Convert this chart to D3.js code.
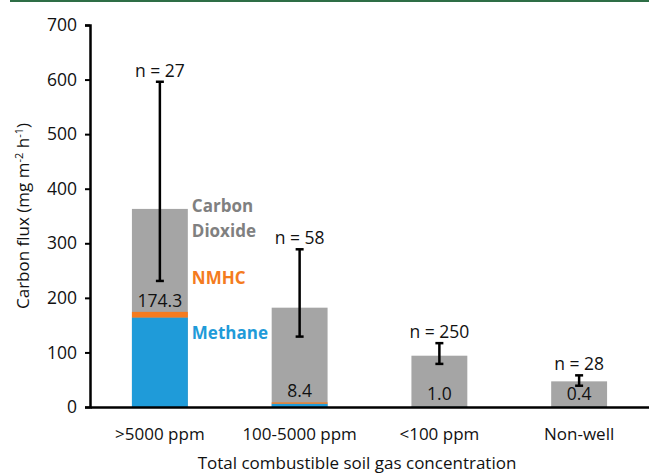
<!DOCTYPE html>
<html>
<head>
<meta charset="utf-8">
<script src="https://cdn.jsdelivr.net/npm/d3@7"></script>
<style>
  body { margin: 0; background: #fff; }
  svg text { font-family: "Open Sans", "Noto Sans", sans-serif; }
</style>
</head>
<body>
<div id="chart"></div>
<script>
// ── data ──
const categories = ['>5000 ppm', '100-5000 ppm', '<100 ppm', 'Non-well'];
const methane = [164.0, 6.0, 0.7, 0.3];
const nmhc = [10.3, 2.4, 0.3, 0.1];
const totalFlux = [363, 182, 94, 47];
const errHigh = [596, 289, 117, 58];
const errLow = [231, 129, 79, 39];
const sampleN = [27, 58, 250, 28];
const hcLabels = ['174.3', '8.4', '1.0', '0.4'];
const yTicks = [0, 100, 200, 300, 400, 500, 600, 700];

const W = 649, H = 473;
const margin = { top: 25, right: 0, bottom: 66, left: 90 };

const svg = d3.select('#chart').append('svg').attr('width', W).attr('height', H);

// thin green rule along the top
svg.append('rect').attr('x', 10).attr('y', 0).attr('width', W - 10).attr('height', 2).attr('fill', '#2e6e46');

const x = d3.scaleBand().domain(categories).range([margin.left, W - margin.right]).paddingInner(0.6).paddingOuter(0.3);
const y = d3.scaleLinear().domain([0, 700]).range([H - margin.bottom, margin.top]);

const g = svg.append('g');

// stacked bars: grey total, then methane, then NMHC on top of methane
g.selectAll('.bar-total').data(categories).join('rect')
    .attr('x', d => x(d)).attr('width', x.bandwidth())
    .attr('y', (d, i) => y(totalFlux[i])).attr('height', (d, i) => y(0) - y(totalFlux[i]))
    .attr('fill', '#a5a5a5');

g.selectAll('.bar-ch4').data(categories).join('rect')
    .attr('x', d => x(d)).attr('width', x.bandwidth())
    .attr('y', (d, i) => y(methane[i])).attr('height', (d, i) => y(0) - y(methane[i]))
    .attr('fill', '#1f9bd9');

g.selectAll('.bar-nmhc').data(categories).join('rect')
    .attr('x', d => x(d)).attr('width', x.bandwidth())
    .attr('y', (d, i) => y(methane[i] + nmhc[i])).attr('height', (d, i) => y(methane[i]) - y(methane[i] + nmhc[i]))
    .attr('fill', '#f47b20');

// error bars
const eb = g.selectAll('.err').data(categories).join('g')
    .attr('transform', d => `translate(${x(d) + x.bandwidth() / 2},0)`);
eb.append('line').attr('y1', (d, i) => y(errLow[i])).attr('y2', (d, i) => y(errHigh[i]))
    .attr('stroke', '#000').attr('stroke-width', 2.5);
eb.append('line').attr('x1', -4).attr('x2', 4).attr('y1', (d, i) => y(errHigh[i])).attr('y2', (d, i) => y(errHigh[i]))
    .attr('stroke', '#000').attr('stroke-width', 2.5);
eb.append('line').attr('x1', -4).attr('x2', 4).attr('y1', (d, i) => y(errLow[i])).attr('y2', (d, i) => y(errLow[i]))
    .attr('stroke', '#000').attr('stroke-width', 2.5);
eb.append('text').attr('text-anchor', 'middle').attr('font-size', 17.5).attr('fill', '#111')
    .attr('y', (d, i) => y(errHigh[i]) - 5)
    .text((d, i) => `n = ${sampleN[i]}`);

// hydrocarbon flux values
g.selectAll('.hc').data(categories).join('text')
    .attr('x', d => x(d) + x.bandwidth() / 2)
    .attr('y', (d, i) => Math.min(y(methane[i] + nmhc[i]) - 5, y(0) - 7))
    .attr('text-anchor', 'middle').attr('font-size', 17.5).attr('fill', '#111')
    .text((d, i) => hcLabels[i]);

// in-plot legend next to first bar (pixel positions)
const lx = x(categories[0]) + x.bandwidth() + 4;
const legend = [
    { t: 'Carbon', py: 212, c: '#808080' },
    { t: 'Dioxide', py: 237, c: '#808080' },
    { t: 'NMHC', py: 284, c: '#f47b20' },
    { t: 'Methane', py: 339, c: '#1f9bd9' }
];
g.selectAll('.leg').data(legend).join('text')
    .attr('x', lx).attr('y', d => d.py)
    .attr('font-size', 17).attr('font-weight', 'bold').attr('fill', d => d.c)
    .text(d => d.t);

// axes
const yAxis = svg.append('g').attr('transform', `translate(${margin.left},0)`)
    .call(d3.axisLeft(y).tickValues(yTicks).tickSize(5).tickPadding(8));
yAxis.select('.domain').attr('stroke', '#000').attr('stroke-width', 2.5);
yAxis.selectAll('.tick line').attr('stroke', '#000').attr('stroke-width', 2);
yAxis.selectAll('.tick text').attr('font-size', 17.5).attr('fill', '#111');

const xAxis = svg.append('g').attr('transform', `translate(0,${y(0)})`)
    .call(d3.axisBottom(x).tickSize(0).tickPadding(21));
xAxis.select('.domain').attr('stroke', '#000').attr('stroke-width', 2.5);
xAxis.selectAll('.tick text').attr('font-size', 17).attr('fill', '#111');

svg.append('text').attr('x', 357).attr('y', 469).attr('text-anchor', 'middle')
    .attr('font-size', 17).attr('fill', '#111')
    .text('Total combustible soil gas concentration');

const yt = svg.append('text').attr('transform', `translate(29,${(y(0) + y(700)) / 2}) rotate(-90)`)
    .attr('text-anchor', 'middle').attr('font-size', 17).attr('fill', '#111');
yt.append('tspan').text('Carbon flux (mg m');
yt.append('tspan').attr('font-size', 11).attr('dy', -6).text('-2');
yt.append('tspan').attr('dy', 6).text(' h');
yt.append('tspan').attr('font-size', 11).attr('dy', -6).text('-1');
yt.append('tspan').attr('dy', 6).text(')');
</script>
</body>
</html>
